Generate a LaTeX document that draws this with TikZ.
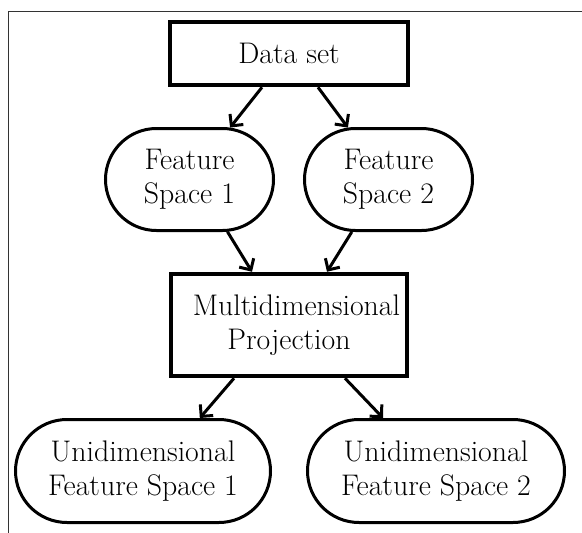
\documentclass[tikz,border=0pt]{standalone}
\usetikzlibrary{shapes.misc,arrows.meta,calc}
\begin{document}
\begin{tikzpicture}[x=1pt,y=-1pt,
  every node/.style={font=\fontsize{29.8}{34}\selectfont, align=center, inner sep=0pt},
  boxnode/.style={draw, line width=4.5pt, rectangle},
  pill/.style={draw, line width=3pt, rounded rectangle},
  conn/.style={line width=3pt, -{Straight Barb[length=8.5pt,width=17pt,line width=3pt]}}]
\useasboundingbox (0,0) rectangle (582,533);
\draw[line width=1pt, black!80] (8,533) -- (8,11) -- (582,11);
\node[boxnode, minimum width=238pt, minimum height=63pt] (ds) at (289,53.5) {Data set};
\node[pill, minimum width=168pt, minimum height=102pt] (fs1) at (189.5,179.5) {Feature\\Space 1};
\node[pill, minimum width=168pt, minimum height=102pt] (fs2) at (388.5,179.5) {Feature\\Space 2};
\node[boxnode, minimum width=236pt, minimum height=102pt] (mp) at (289,325) {\hspace*{15pt}Multidimensional\\Projection};
\node[pill, minimum width=255pt, minimum height=103pt] (u1) at (143,471) {Unidimensional\\Feature Space 1};
\node[pill, minimum width=257pt, minimum height=103pt] (u2) at (436,471) {Unidimensional\\Feature Space 2};
\draw[conn] ($(ds.south)+(-27,0)$) -- (fs1.52);
\draw[conn] ($(ds.south)+(29,0)$) -- (fs2.128);
\draw[conn] (fs1.-54) -- ($(mp.north)+(-37,0)$);
\draw[conn] (fs2.-125) -- ($(mp.north)+(38,0)$);
\draw[conn] ($(mp.south)+(-55,0)$) -- (u1.43);
\draw[conn] ($(mp.south)+(56,0)$) -- (u2.135);
\end{tikzpicture}
\end{document}
